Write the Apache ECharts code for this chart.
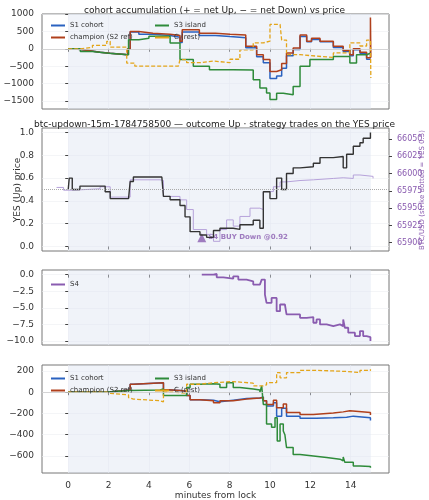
<!DOCTYPE html>
<html><head><meta charset="utf-8">
<script src="https://cdn.jsdelivr.net/npm/echarts@6/dist/echarts.min.js"></script>
<style>html,body{margin:0;padding:0;background:#fff}#main{width:429px;height:500px}</style>
</head><body><div id="main"></div>
<script>
// ---- panel 1: cohort accumulation (shares) ----
const accChampT = [0, 0.3, 0.99, 1.58, 2.08, 2.95, 3.07, 3.5, 4.2, 5.05, 5.54, 5.65, 6.5, 7.3, 8.02, 8.8, 9.34, 9.67, 10.0, 10.33, 10.58, 10.82, 11.15, 11.49, 11.82, 12.06, 12.48, 13.14, 13.63, 13.96, 14.13, 14.46, 14.79, 14.98, 15.0]
const accChamp  = [0, -50, -100, -130, -170, 0, 500, 450, 420, 380, 220, 550, 450, 420, 400, 70, -170, -310, -650, -600, -420, -120, 20, 400, 220, 300, 220, 70, -50, -170, 0, -100, -260, 900, -250]
const accS1T = [0, 0.3, 0.99, 1.58, 2.08, 2.95, 3.07, 3.5, 4.2, 5.05, 5.54, 5.65, 6.5, 7.3, 8.02, 8.8, 9.34, 9.67, 10.0, 10.33, 10.58, 10.82, 11.15, 11.49, 11.82, 12.06, 12.48, 13.14, 13.63, 13.96, 14.13, 14.46, 14.79, 15.0]
const accS1  = [0, -50, -100, -130, -170, 0, 480, 420, 380, 330, 180, 480, 380, 350, 320, 30, -230, -400, -850, -780, -560, -200, -20, 350, 200, 270, 200, 40, -80, -200, -30, -130, -300, -290]
const accS3T = [0, 0.6, 1.2, 2.0, 2.99, 3.5, 4.0, 4.55, 5.05, 5.54, 6.2, 7.0, 8.18, 9.17, 9.5, 9.83, 10.0, 10.33, 10.66, 11.15, 11.49, 11.98, 13.14, 13.96, 14.29, 14.79, 15.0]
const accS3  = [0, -80, -130, -170, 260, 300, 360, 360, 170, -310, -500, -600, -610, -890, -1130, -1270, -1460, -1280, -1320, -1080, -500, -310, -220, -410, -170, -120, -140]
const accCT = [0, 0.6, 1.2, 1.91, 2.08, 2.9, 3.3, 4.55, 5.46, 5.54, 5.87, 6.53, 7.2, 8.02, 8.51, 9.17, 9.67, 10.0, 10.5, 10.58, 10.82, 11.49, 12.31, 13.14, 13.96, 14.46, 14.79, 14.98, 15.0]
const accC  = [0, 40, 100, 215, 50, -410, -500, -500, -450, -310, -400, -350, -400, -300, -30, 170, 220, 700, 740, 250, -170, -210, -250, -120, 170, 80, 250, 300, -840]

// ---- panel 2: YES price and BTC ----
const yesT = [0, 0.05, 0.2, 0.58, 1.58, 1.83, 2.08, 2.99, 3.07, 3.23, 4.64, 4.72, 5.05, 5.54, 5.79, 6.04, 6.53, 6.86, 7.2, 7.52, 8.18, 8.51, 9.17, 9.5, 9.67, 10.0, 10.33, 10.58, 10.82, 11.15, 11.49, 12.15, 12.48, 13.14, 13.63, 13.8, 14.13, 14.46, 14.62, 14.98]
const yesP = [0.5, 0.6, 0.5, 0.53, 0.53, 0.48, 0.42, 0.42, 0.57, 0.61, 0.61, 0.44, 0.41, 0.36, 0.26, 0.13, 0.10, 0.08, 0.14, 0.16, 0.15, 0.19, 0.23, 0.16, 0.48, 0.42, 0.60, 0.50, 0.64, 0.69, 0.70, 0.73, 0.78, 0.79, 0.69, 0.81, 0.88, 0.91, 0.95, 1.0]
const btcT = [-0.58, -0.23, 0.2, 1.58, 2.08, 3.07, 4.55, 4.72, 5.54, 5.87, 6.2, 6.86, 7.2, 7.52, 7.85, 8.18, 8.51, 9.01, 9.5, 9.67, 10.17, 10.5, 10.82, 11.49, 12.15, 13.14, 13.63, 14.13, 14.46, 15.11]
const btcP = [65980, 65976, 65978, 65981, 65966, 65991, 65990, 65967, 65962, 65948, 65919, 65912, 65902, 65919, 65933, 65924, 65938, 65950, 65948, 65974, 65981, 65988, 65990, 65991, 65993, 65994, 65993, 65998, 65996, 65993]
const tradeT = [6.62]
const tradeP = [0.077]
const tradeLabel = ['S4 BUY Down @0.92']
const strikeYes = 0.5

// ---- panel 3: strategy PnL ----
const s4T = [6.62, 7.2, 7.36, 7.69, 8.18, 8.43, 8.84, 9.17, 9.5, 9.59, 9.75, 9.83, 10.08, 10.33, 10.5, 10.74, 10.82, 11.49, 11.82, 12.15, 12.31, 12.48, 12.81, 13.14, 13.47, 13.63, 13.71, 13.88, 14.21, 14.46, 14.62, 14.79, 14.98]
const s4P  = [0, 0.1, -0.4, -0.6, -0.25, -0.75, -1.0, -1.5, -1.5, -0.75, -3.0, -4.25, -3.5, -5.5, -4.5, -4.75, -6.0, -6.5, -6.4, -7.25, -6.75, -7.5, -7.75, -7.5, -7.75, -6.75, -8.0, -8.75, -9.25, -8.5, -9.25, -9.4, -10.0]

// ---- panel 4: cohort moving PnL ----
const pnlChampT = [0, 1.91, 2.9, 3.07, 3.23, 4.72, 4.8, 5.54, 5.87, 6.04, 6.53, 7.2, 7.52, 8.18, 8.84, 9.5, 9.67, 9.83, 10.17, 10.33, 10.66, 10.82, 11.49, 12.15, 13.14, 13.63, 13.96, 14.98]
const pnlChamp  = [0, 18, 18, 75, 90, 25, 15, 10, -30, -70, -80, -100, -80, -65, -55, -50, -80, -115, -75, -145, -110, -190, -210, -195, -185, -175, -190, -215]
const pnlS1T = [0, 1.91, 2.9, 3.07, 3.23, 4.72, 4.8, 5.54, 5.87, 6.04, 6.53, 7.2, 7.52, 8.18, 8.84, 9.5, 9.67, 9.83, 10.17, 10.33, 10.58, 10.82, 11.49, 12.31, 13.14, 13.8, 14.13, 14.98]
const pnlS1  = [0, 18, 18, 75, 90, 25, 15, 10, -30, -70, -75, -90, -75, -60, -55, -45, -80, -130, -100, -225, -150, -225, -245, -240, -235, -225, -240, -265]
const pnlS3T = [0, 1.91, 2.08, 3.07, 4.55, 4.72, 5.54, 5.87, 6.04, 6.53, 7.2, 7.52, 7.85, 8.18, 8.51, 9.17, 9.5, 9.59, 9.67, 9.83, 10.08, 10.25, 10.36, 10.5, 10.66, 10.74, 10.82, 11.15, 11.49, 12.15, 12.81, 13.47, 13.63, 13.71, 14.13, 14.46, 14.98]
const pnlS3  = [0, 5, 15, 20, 30, -30, -30, 45, 75, 80, 75, 45, 90, 45, 30, 20, 0, 60, -115, -300, -330, -240, -460, -300, -365, -400, -520, -585, -600, -615, -630, -645, -610, -660, -695, -700, -710]
const pnlCT = [0, 1.91, 2.08, 2.99, 3.07, 3.23, 4.55, 4.72, 5.22, 5.87, 6.53, 7.2, 8.18, 9.17, 9.67, 9.83, 10.33, 10.5, 10.82, 11.49, 12.31, 13.14, 13.8, 14.46, 14.98]
const pnlC  = [0, -10, -25, -50, -65, -80, -90, 0, -10, 75, 90, 100, 85, 60, 70, 90, 185, 135, 185, 206, 200, 195, 185, 205, 215]

const xTicks = [0, 2, 4, 6, 8, 10, 12, 14]
const btcTicks = [65900, 65925, 65950, 65975, 66000, 66025, 66050]

const C_S1 = '#2a62c0', C_CH = '#b0401c', C_S3 = '#2e8b3a', C_C = '#e3a51a', C_S4 = '#8a5cb0', C_BTC = '#b6a2da'
const minus = v => String(v).replace('-', '\u2212')
function zip(t, v) { return t.map((x, i) => [x, v[i]]) }

const grids = [
	{left: 42, right: 40, top: 14, height: 95},
	{left: 42, right: 40, top: 128, height: 123},
	{left: 42, right: 40, top: 270, height: 75},
	{left: 42, right: 40, top: 365, height: 108}
].map(g => Object.assign(g, {show: true, borderColor: '#777', borderWidth: 1, backgroundColor: '#fff', containLabel: false, outerBoundsMode: 'none'}))

function xAxis(i, labels) {
	return {
		type: 'value', gridIndex: i, min: -1.3, max: 15.9,
		axisLine: {show: false},
		axisTick: {show: true, customValues: xTicks, length: 3, lineStyle: {color: '#444'}},
		axisLabel: {show: labels, customValues: xTicks, fontSize: 9, color: '#333'},
		splitLine: {show: true, lineStyle: {color: '#eceef2', width: 0.6}},
		name: labels ? 'minutes from lock' : '', nameLocation: 'middle', nameGap: 16,
		nameTextStyle: {fontSize: 9, color: '#333'}
	}
}
function yAxis(i, min, max, ticks, name, fmt, extra) {
	return Object.assign({
		type: 'value', gridIndex: i, min: min, max: max,
		axisLine: {show: false},
		axisTick: {show: true, customValues: ticks, length: 3, lineStyle: {color: '#444'}},
		axisLabel: {customValues: ticks, fontSize: 9, color: '#333', formatter: fmt},
		splitLine: {show: true, lineStyle: {color: '#eceef2', width: 0.6}},
		name: name, nameLocation: 'middle', nameGap: 26, nameRotate: 90,
		nameTextStyle: {fontSize: 9, color: '#333'}
	}, extra || {})
}
const shade = {silent: true, itemStyle: {color: 'rgba(222,228,242,0.45)'}, data: [[{xAxis: 0}, {xAxis: 15}]]}
function line(name, xi, yi, t, v, color, extra) {
	return Object.assign({
		name: name, type: 'line', xAxisIndex: xi, yAxisIndex: yi, step: 'end',
		showSymbol: false, data: zip(t, v), lineStyle: {color: color, width: 1.5}, itemStyle: {color: color}
	}, extra || {})
}
const dashed = {lineStyle: {color: C_C, width: 1.3, type: [4, 2]}}
const zeroLine = {silent: true, symbol: 'none', label: {show: false}, lineStyle: {color: '#ccc', type: 'solid', width: 0.8}, data: [{yAxis: 0}]}

const legText = {fontSize: 7, color: '#333', width: 90, overflow: 'none'}
function legend(names, left, top) {
	return {data: names, orient: 'vertical', left: left, top: top, itemWidth: 14, itemHeight: 2, itemGap: 5,
		textStyle: legText, icon: 'rect', z: 10, backgroundColor: 'transparent'}
}
function vText(text, x, y, color, size) {
	return {type: 'text', x: x, y: y, rotation: Math.PI / 2,
		style: {text: text, fill: color, font: size + 'px "DejaVu Sans"', align: 'center', verticalAlign: 'middle'}}
}
const option = {
	animation: false,
	textStyle: {fontFamily: 'DejaVu Sans'},
	title: [
		{text: 'cohort accumulation (+ = net Up, \u2212 = net Down) vs price', left: 'center', top: 1, textStyle: {fontSize: 9, fontWeight: 'normal', color: '#222'}},
		{text: 'btc-updown-15m-1784758500 \u2014 outcome Up \u00b7 strategy trades on the YES price', left: 'center', top: 115, textStyle: {fontSize: 9, fontWeight: 'normal', color: '#222'}}
	],
	graphic: [
		vText('BTC/USD (strike dotted = YES 0.5)', 422, 190, C_S4, 7),
		vText('YES (Up) price', 18, 190, '#333', 9)
	],
	grid: grids,
	legend: [
		legend(['S1 cohort', 'champion (S2 ref)'], 46, 17),
		legend(['S3 island', 'C (rest)'], 150, 17),
		legend(['S4'], 46, 276),
		legend(['S1 cohort', 'champion (S2 ref)'], 46, 370),
		legend(['S3 island', 'C (rest)'], 150, 370)
	],
	xAxis: [xAxis(0, false), xAxis(1, false), xAxis(2, false), xAxis(3, true)],
	yAxis: [
		yAxis(0, -1730, 1000, [-1500, -1000, -500, 0, 500, 1000], 'acc. net YES (shares)', v => minus(v)),
		yAxis(1, -0.04, 1.04, [0, 0.2, 0.4, 0.6, 0.8, 1.0], '', v => v.toFixed(1)),
		yAxis(1, 65888, 66066, btcTicks, '', v => String(v),
			{position: 'right', splitLine: {show: false},
			 axisLabel: {customValues: btcTicks, fontSize: 8, color: C_S4, formatter: v => String(v)}}),
		yAxis(2, -10.6, 0.7, [-10, -7.5, -5, -2.5, 0], 'strategy PnL ($)', v => minus(v.toFixed(1)), {nameGap: 24}),
		yAxis(3, -760, 256, [-600, -400, -200, 0, 200], 'cohort moving PnL ($)', v => minus(v))
	],
	series: [
		line('S1 cohort', 0, 0, accS1T, accS1, C_S1, {markArea: shade, markLine: zeroLine}),
		line('champion (S2 ref)', 0, 0, accChampT, accChamp, C_CH),
		line('S3 island', 0, 0, accS3T, accS3, C_S3),
		line('C (rest)', 0, 0, accCT, accC, C_C, dashed),

		line('BTC', 1, 2, btcT, btcP, C_BTC, {lineStyle: {color: C_BTC, width: 1}, markArea: shade}),
		line('YES', 1, 1, yesT, yesP, '#333', {lineStyle: {color: '#333', width: 1.4},
			markLine: {silent: true, symbol: 'none', label: {show: false}, lineStyle: {color: '#aaa', type: 'dotted', width: 1}, data: [{yAxis: strikeYes}]}}),
		{name: 'trade', type: 'scatter', xAxisIndex: 1, yAxisIndex: 1, symbol: 'triangle', symbolSize: 9,
			itemStyle: {color: C_S4}, data: zip(tradeT, tradeP),
			label: {show: true, position: 'right', distance: 2, formatter: p => tradeLabel[p.dataIndex], fontSize: 7, fontWeight: 'bold', color: C_S4}},

		line('S4', 2, 3, s4T, s4P, C_S4, {lineStyle: {color: C_S4, width: 1.8}, markArea: shade}),

		line('S1 cohort', 3, 4, pnlS1T, pnlS1, C_S1, {markArea: shade, markLine: zeroLine}),
		line('champion (S2 ref)', 3, 4, pnlChampT, pnlChamp, C_CH),
		line('S3 island', 3, 4, pnlS3T, pnlS3, C_S3),
		line('C (rest)', 3, 4, pnlCT, pnlC, C_C, dashed)
	]
}
echarts.init(document.getElementById('main')).setOption(option)
</script>
</body></html>
